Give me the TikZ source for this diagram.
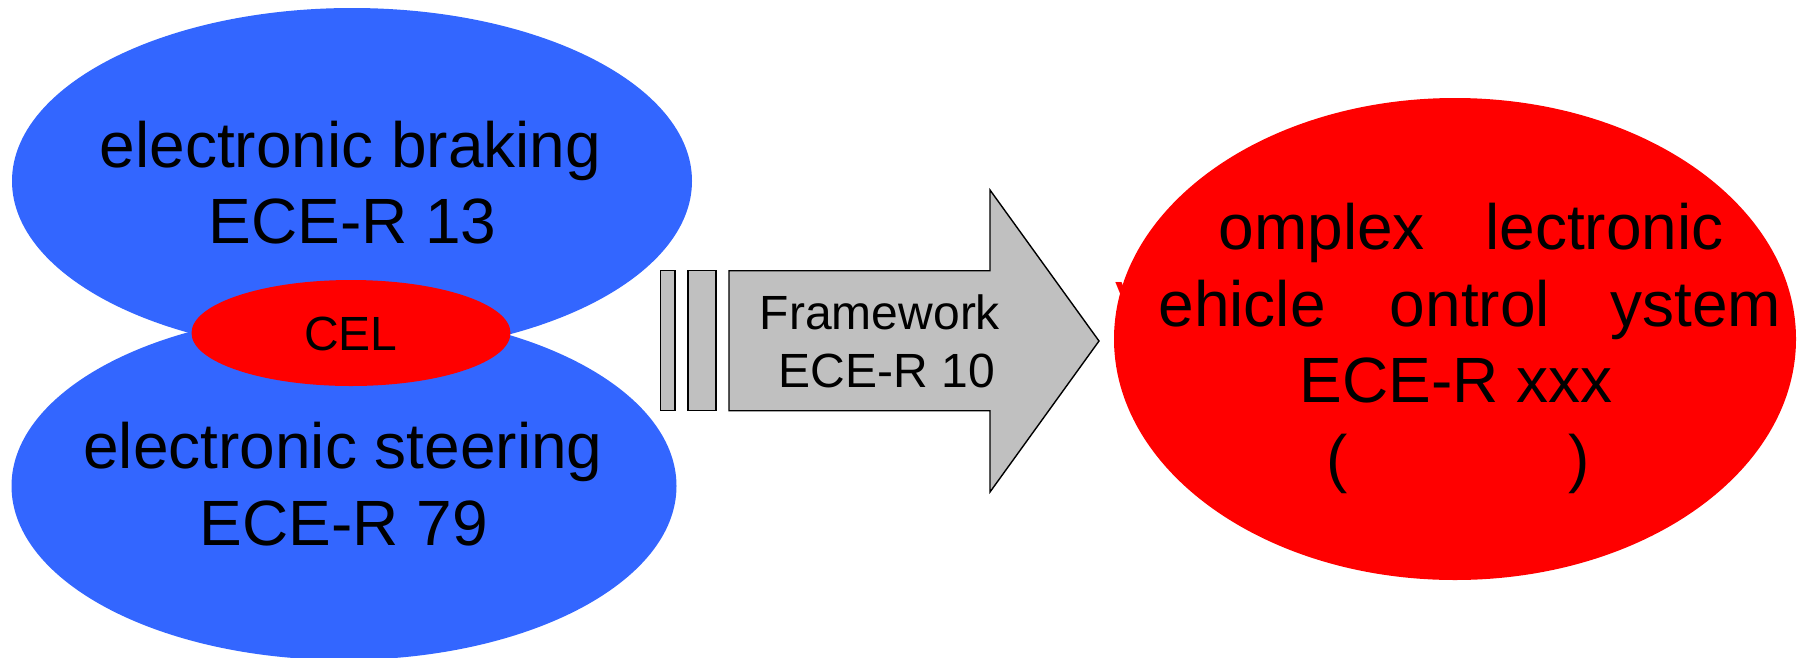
\documentclass[tikz,border=0pt]{standalone}
\usepackage{fontspec}
\setmainfont{Liberation Sans}
\usetikzlibrary{shapes.geometric}
\definecolor{eceblue}{HTML}{3366FF}
\definecolor{ecered}{HTML}{FF0000}
\definecolor{ecegray}{HTML}{C0C0C0}
\begin{document}
\begin{tikzpicture}[x=1pt,y=-1pt,
  blob/.style={ellipse, inner sep=0pt, draw=none},
  big/.style={font=\fontsize{64}{76}\selectfont, anchor=base, inner sep=0pt},
  small/.style={font=\fontsize{48}{58}\selectfont, anchor=base, inner sep=0pt},
  bar/.style={fill=ecegray, draw=black, line width=1.4pt, line join=miter}]
\useasboundingbox (0,0) rectangle (1800,657);
\node[blob, fill=eceblue, minimum width=680pt, minimum height=346pt] (brk) at (352,181) {};
\node[blob, fill=eceblue, minimum width=665pt, minimum height=348pt] (str) at (344,486) {};
\node[blob, fill=ecered, minimum width=319pt, minimum height=106pt] (cel) at (351,333) {};
\node[blob, fill=ecered, minimum width=682pt, minimum height=482pt] (cevcs) at (1455,339) {};
\node[big] (brk1) at (350.5,167.6) {electronic braking};
\node[big] (brk2) at (352.5,243.8) {ECE-R 13};
\node[small] (celt) at (351,350) {CEL};
\node[big] (str1) at (343,468.4) {electronic steering};
\node[big] (str2) at (344,545.9) {ECE-R 79};
\node[big] (c1) at (1448,249) {\textcolor{ecered}{C}omplex \textcolor{ecered}{E}lectronic};
\node[big] (c2) at (1448.5,326) {\textcolor{ecered}{V}ehicle \textcolor{ecered}{C}ontrol \textcolor{ecered}{S}ystem};
\node[big] (c3) at (1456,402) {ECE-R xxx};
\node[big] (c4) at (1458,480) {(\textcolor{ecered}{CEVCS})};
\draw[bar] (660.7,270.7) rectangle (675,410.7);
\draw[bar] (688,270.7) rectangle (716,410.7);
\draw[bar] (729,270.7) -- (990,270.7) -- (990,190) -- (1099,341) -- (990,492) -- (990,410.7) -- (729,410.7) -- cycle;
\node[small] (fw1) at (880,329) {Framework};
\node[small] (fw2) at (887,387) {ECE-R 10};
\end{tikzpicture}
\end{document}
